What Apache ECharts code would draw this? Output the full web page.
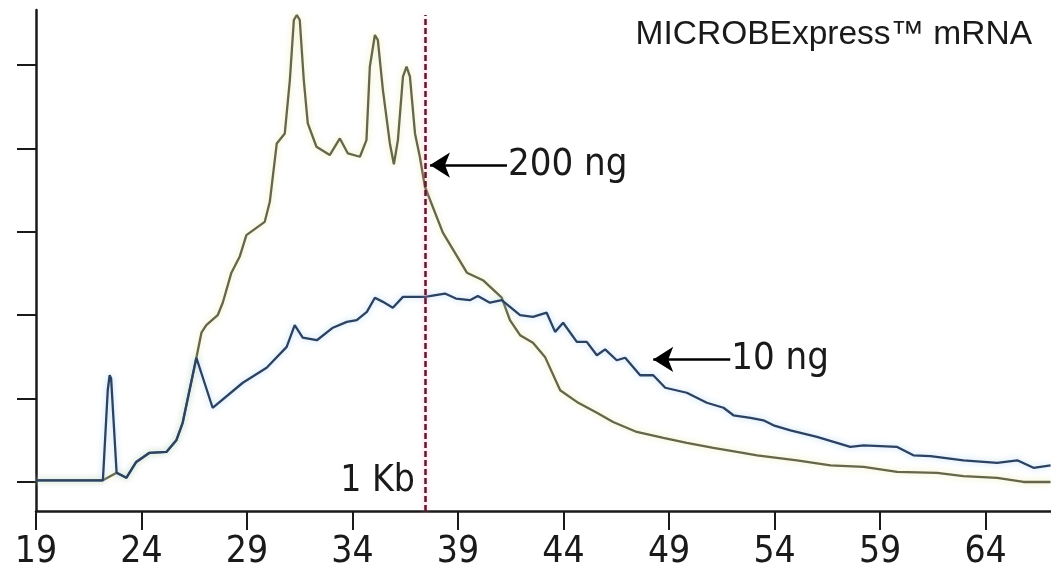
<!DOCTYPE html>
<html>
<head>
<meta charset="utf-8">
<script src="https://cdn.jsdelivr.net/npm/echarts@6/dist/echarts.min.js"></script>
<style>
  html, body { margin: 0; padding: 0; background: #fff; }
  #chart { width: 1051px; height: 573px; }
</style>
</head>
<body>
<div id="chart"></div>
<script>
// x ticks (size axis) and y ticks (no labels shown)
const xTicks = [19, 24, 29, 34, 39, 44, 49, 54, 59, 64]
const yTicks = [0, 1, 2, 3, 4, 5]

// 10 ng trace, [size, signal]
const trace10ng = [
  [19, 0.02], [22.17, 0.02], [22.4, 1.1], [22.49, 1.28], [22.56, 1.24], [22.82, 0.11],
  [23.28, 0.05], [23.75, 0.24], [24.38, 0.35], [25.18, 0.36], [25.65, 0.5], [25.95, 0.71],
  [26.6, 1.49], [27.37, 0.89], [28.8, 1.19], [29.93, 1.37], [30.88, 1.62], [31.26, 1.88],
  [31.64, 1.73], [32.31, 1.7], [33.07, 1.85], [33.73, 1.92], [34.2, 1.94], [34.68, 2.04],
  [35.06, 2.21], [35.44, 2.16], [35.91, 2.09], [36.39, 2.22], [37.43, 2.22], [38.38, 2.26],
  [38.9, 2.2], [39.56, 2.18], [39.94, 2.23], [40.51, 2.15], [41.07, 2.18], [41.94, 2.0],
  [42.55, 1.98], [43.2, 2.03], [43.6, 1.8], [43.98, 1.91], [44.63, 1.68], [45.1, 1.68],
  [45.58, 1.52], [45.97, 1.59], [46.52, 1.46], [46.92, 1.49], [47.63, 1.28], [48.25, 1.28],
  [48.82, 1.13], [49.84, 1.07], [50.79, 0.95], [51.58, 0.89], [52.05, 0.8], [52.86, 0.77],
  [53.47, 0.74], [53.95, 0.68], [54.75, 0.62], [56.01, 0.54], [57.59, 0.42], [58.22, 0.44],
  [59.81, 0.42], [60.58, 0.32], [61.39, 0.31], [62.95, 0.26], [64.55, 0.23], [65.5, 0.26],
  [66.27, 0.17], [67.08, 0.2]
]

// 200 ng trace, [size, signal]
const trace200ng = [
  [19, 0.02], [22.17, 0.02], [22.82, 0.11], [23.28, 0.05], [23.75, 0.24], [24.38, 0.35],
  [25.18, 0.36], [25.65, 0.5], [25.95, 0.71], [26.6, 1.49], [26.84, 1.79], [27.07, 1.88],
  [27.61, 2.0], [27.85, 2.15], [28.26, 2.51], [28.65, 2.7], [28.97, 2.96], [29.84, 3.12],
  [30.08, 3.36], [30.41, 4.06], [30.79, 4.18], [31.03, 4.82], [31.22, 5.54], [31.36, 5.6],
  [31.5, 5.54], [31.69, 4.82], [31.88, 4.3], [32.29, 4.02], [32.92, 3.92], [33.4, 4.12],
  [33.78, 3.94], [34.35, 3.9], [34.66, 4.1], [34.82, 4.98], [35.06, 5.36], [35.2, 5.3],
  [35.44, 4.7], [35.77, 4.06], [35.96, 3.81], [36.15, 4.1], [36.39, 4.86], [36.56, 4.98],
  [36.72, 4.86], [36.96, 4.18], [37.19, 3.9], [37.43, 3.54], [38.28, 2.99], [39.42, 2.51],
  [40.18, 2.42], [41.07, 2.21], [41.46, 1.94], [41.94, 1.76], [42.55, 1.67], [43.12, 1.5],
  [43.84, 1.1], [44.63, 0.96], [45.58, 0.83], [46.35, 0.72], [47.47, 0.6], [48.73, 0.53],
  [49.84, 0.47], [51.1, 0.41], [52.22, 0.36], [53.17, 0.32], [55.06, 0.26], [56.65, 0.2],
  [58.22, 0.18], [59.81, 0.12], [61.7, 0.11], [62.95, 0.07], [64.55, 0.05], [65.8, 0.0],
  [67.08, 0.0]
]

// 1 Kb marker position and annotation anchors
const oneKb = 37.43
const arrow200 = { tip: [37.67, 3.8], tail: [41.32, 3.8], text: '200 ng' }
const arrow10 = { tip: [48.25, 1.47], tail: [51.9, 1.47], text: '10 ng' }

const labelFont = "'Liberation Sans Narrow', 'DejaVu Sans Condensed', 'Liberation Sans', sans-serif"
const ink = '#1a1a1a'

const chart = echarts.init(document.getElementById('chart'))

const arrowLine = (a) => [{ coord: a.tail }, { coord: a.tip }]
const arrowText = (a) => ({
  coord: a.tail,
  symbolSize: 0,
  label: { show: true, position: 'right', distance: 1, formatter: a.text }
})

const options = {
  animation: false,
  title: {
    text: 'MICROBExpress™ mRNA',
    right: 14,
    top: 13,
    textStyle: { fontFamily: "'Liberation Sans', sans-serif", fontSize: 33.5, fontWeight: 'normal', color: ink }
  },
  grid: { left: 36, right: 0, top: 10, bottom: 62 },
  xAxis: {
    type: 'value',
    min: 19,
    max: 67.1,
    axisLine: { onZero: false, lineStyle: { color: ink, width: 2.5 } },
    axisTick: { customValues: xTicks, length: 19, lineStyle: { color: ink, width: 2 } },
    axisLabel: {
      customValues: xTicks,
      margin: 23,
      fontFamily: labelFont,
      fontSize: 37,
      color: ink
    },
    splitLine: { show: false }
  },
  yAxis: {
    type: 'value',
    min: -0.348,
    max: 5.66,
    axisLine: { show: true, onZero: false, lineStyle: { color: ink, width: 2.5 } },
    axisTick: { show: true, customValues: yTicks, length: 19, lineStyle: { color: ink, width: 2 } },
    axisLabel: { show: false },
    splitLine: { show: false }
  },
  series: [
    {
      name: '200 ng',
      type: 'line',
      data: trace200ng,
      symbol: 'none',
      lineStyle: { color: '#66664a', width: 2.3, shadowColor: 'rgba(225,225,140,0.7)', shadowBlur: 6 },
      markLine: {
        silent: true,
        symbol: ['none', 'arrow'],
        symbolSize: [19, 20],
        lineStyle: { color: '#000', width: 2.5, type: 'solid' },
        label: { show: false },
        data: [arrowLine(arrow200)]
      },
      markPoint: {
        symbol: 'circle',
        label: { fontFamily: labelFont, fontSize: 38, color: ink },
        data: [arrowText(arrow200)]
      }
    },
    {
      name: '10 ng',
      type: 'line',
      data: trace10ng,
      symbol: 'none',
      lineStyle: { color: '#2c4262', width: 2.3, shadowColor: 'rgba(150,200,240,0.7)', shadowBlur: 6 },
      markLine: {
        silent: true,
        symbol: ['none', 'arrow'],
        symbolSize: [19, 20],
        lineStyle: { color: '#000', width: 2.5, type: 'solid' },
        label: { show: false },
        data: [
          arrowLine(arrow10),
          [
            { coord: [oneKb, -0.348], symbol: 'none', lineStyle: { color: '#5e1530', width: 2.5, type: [6, 3], shadowColor: 'rgba(255,150,180,0.8)', shadowBlur: 5 } },
            { coord: [oneKb, 5.6], symbol: 'none' }
          ]
        ]
      },
      markPoint: {
        symbol: 'circle',
        label: { fontFamily: labelFont, fontSize: 38, color: ink },
        data: [
          arrowText(arrow10),
          {
            coord: [oneKb, 0.012],
            symbolSize: 0,
            label: { show: true, position: 'left', distance: 10, formatter: '1 Kb', fontSize: 37 }
          }
        ]
      }
    }
  ]
}

chart.setOption(options)
</script>
</body>
</html>
